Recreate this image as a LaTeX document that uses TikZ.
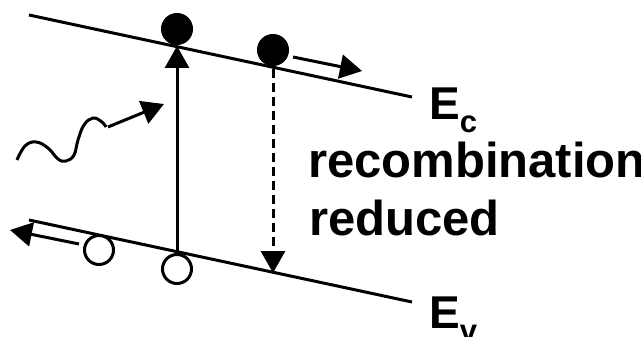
\documentclass[tikz,border=0pt]{standalone}
\usepackage{fontspec}
\setmainfont{Liberation Sans}
\usetikzlibrary{arrows.meta}
\begin{document}
\begin{tikzpicture}[x=1pt,y=-1pt,
  band/.style={line width=3pt},
  elec/.style={circle,fill=black,draw=black,line width=1pt,minimum size=31pt,inner sep=0pt},
  hole/.style={circle,fill=white,draw=black,line width=3pt,minimum size=29pt,inner sep=0pt},
  arr/.style={line width=3pt,-{Triangle[length=22pt,width=24pt]}},
  lbl/.style={font=\fontsize{49}{49}\selectfont\bfseries,anchor=base west,inner sep=0pt}]
\useasboundingbox (0,0) rectangle (641,337);
% bands
\coordinate (c1) at (29,15);
\coordinate (c2) at (412,97);
\coordinate (v1) at (29,220);
\coordinate (v2) at (412,302);
\draw[band] (c1) -- (c2);
\draw[band] (v1) -- (v2);
% carriers
\node[elec] (e1) at (177,29) {};
\node[elec] (e2) at (273,50) {};
\node[hole] (h1) at (99,250) {};
\node[hole] (h2) at (177,269) {};
% transitions
\coordinate (vb) at (177,252);
\coordinate (ct) at (177,46);
\draw[arr] (vb) -- (ct);
\coordinate (dt) at (273,69);
\coordinate (db) at (273,273);
\draw[arr,dash pattern=on 9pt off 5pt] (dt) -- (db);
% drift arrows
\coordinate (ra) at (293,57);
\coordinate (rb) at (362,71);
\draw[arr] (ra) -- (rb);
\coordinate (la) at (79,244);
\coordinate (lb) at (10,230);
\draw[arr] (la) -- (lb);
% photon
\coordinate (pa) at (108,127);
\coordinate (pb) at (164,104);
\draw[line width=3pt] plot[smooth,tension=0.7] coordinates
  {(17,160) (25,146) (36,142) (48,148) (58,159) (66,161) (74,155) (78,140) (84,125) (93,118) (102,122) (106,127)};
\draw[arr] (pa) -- (pb);
% labels
\node[lbl] (ec) at (429,120) {\fontsize{46}{46}\selectfont E\raisebox{-13pt}{\fontsize{31}{31}\selectfont c}};
\node[lbl] (ev) at (429,328) {\fontsize{46}{46}\selectfont E\raisebox{-13pt}{\fontsize{31}{31}\selectfont v}};
\node[lbl] (rec) at (308,178) {recombination};
\node[lbl] (red) at (309,235) {reduced};
\end{tikzpicture}
\end{document}
